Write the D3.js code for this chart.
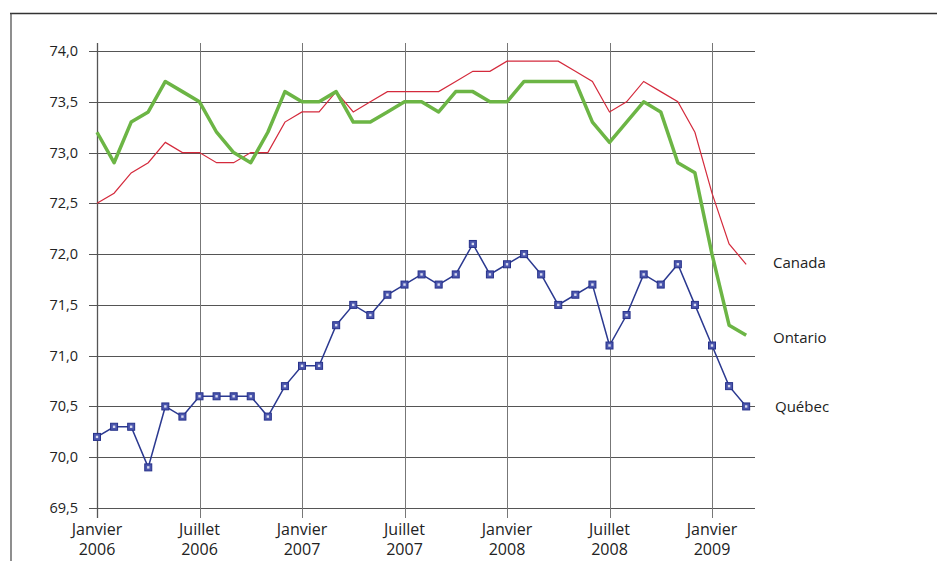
<!DOCTYPE html>
<html>
<head>
<meta charset="utf-8">
<script src="https://cdn.jsdelivr.net/npm/d3@7"></script>
<style>
  body { margin: 0; background: #fff; }
  text { font-family: "Open Sans", "Noto Sans", sans-serif; fill: #222; }
</style>
</head>
<body>
<svg id="chart"></svg>
<script>
// months from Jan 2006 (index 0) to Mar 2009 (index 38)
const tickMonths = [0, 6, 12, 18, 24, 30, 36];
const tickLabels = [
  ["Janvier", "2006"], ["Juillet", "2006"], ["Janvier", "2007"], ["Juillet", "2007"],
  ["Janvier", "2008"], ["Juillet", "2008"], ["Janvier", "2009"]
];
const yTicks = [69.5, 70.0, 70.5, 71.0, 71.5, 72.0, 72.5, 73.0, 73.5, 74.0];

const canada = [72.5, 72.6, 72.8, 72.9, 73.1, 73.0, 73.0, 72.9, 72.9, 73.0, 73.0, 73.3,
  73.4, 73.4, 73.6, 73.4, 73.5, 73.6, 73.6, 73.6, 73.6, 73.7, 73.8, 73.8,
  73.9, 73.9, 73.9, 73.9, 73.8, 73.7, 73.4, 73.5, 73.7, 73.6, 73.5, 73.2,
  72.6, 72.1, 71.9];
const ontario = [73.2, 72.9, 73.3, 73.4, 73.7, 73.6, 73.5, 73.2, 73.0, 72.9, 73.2, 73.6,
  73.5, 73.5, 73.6, 73.3, 73.3, 73.4, 73.5, 73.5, 73.4, 73.6, 73.6, 73.5,
  73.5, 73.7, 73.7, 73.7, 73.7, 73.3, 73.1, 73.3, 73.5, 73.4, 72.9, 72.8,
  72.0, 71.3, 71.2];
const quebec = [70.2, 70.3, 70.3, 69.9, 70.5, 70.4, 70.6, 70.6, 70.6, 70.6, 70.4, 70.7,
  70.9, 70.9, 71.3, 71.5, 71.4, 71.6, 71.7, 71.8, 71.7, 71.8, 72.1, 71.8,
  71.9, 72.0, 71.8, 71.5, 71.6, 71.7, 71.1, 71.4, 71.8, 71.7, 71.9, 71.5,
  71.1, 70.7, 70.5];
const seriesNames = ["Canada", "Ontario", "Québec"];

const W = 937, H = 561;
const svg = d3.select("#chart").attr("width", W).attr("height", H);

// frame
svg.append("line").attr("x1", 10).attr("x2", W).attr("y1", 13.5).attr("y2", 13.5)
  .attr("stroke", "#333").attr("stroke-width", 1.5);
svg.append("line").attr("x1", 11).attr("x2", 11).attr("y1", 13).attr("y2", H)
  .attr("stroke", "#444").attr("stroke-width", 1.2);

// scales
const x = d3.scaleLinear().domain([0, 36]).range([97, 712]);
const xEnd = 755;
const y = d3.scaleLinear().domain([69.5, 74.0]).range([508, 51]);

const g = svg.append("g");

// horizontal grid + y ticks
g.selectAll("line.hgrid").data(yTicks).join("line")
  .attr("class", "hgrid")
  .attr("x1", 89).attr("x2", xEnd)
  .attr("y1", d => Math.round(y(d)) + 0.5).attr("y2", d => Math.round(y(d)) + 0.5)
  .attr("stroke", "#555").attr("stroke-width", 1.2);

// vertical grid
g.selectAll("line.vgrid").data(tickMonths).join("line")
  .attr("class", "vgrid")
  .attr("x1", d => Math.round(x(d)) + 0.5).attr("x2", d => Math.round(x(d)) + 0.5)
  .attr("y1", 43).attr("y2", 518)
  .attr("stroke", d => d === 0 ? "#555" : "#777").attr("stroke-width", d => d === 0 ? 1.3 : 1);

// y labels
g.selectAll("text.ylab").data(yTicks).join("text")
  .attr("class", "ylab")
  .attr("x", 78).attr("y", d => y(d) + 5)
  .attr("text-anchor", "end").attr("font-size", 14.5)
  .text(d => d3.format(".1f")(d).replace(".", ","));

// x labels
const xl = g.selectAll("text.xlab").data(tickMonths).join("text")
  .attr("class", "xlab")
  .attr("text-anchor", "middle").attr("font-size", 16);
xl.append("tspan").attr("x", d => x(d)).attr("y", 535).text((d, i) => tickLabels[i][0]);
xl.append("tspan").attr("x", d => x(d)).attr("y", 555).text((d, i) => tickLabels[i][1]);

const line = d3.line().x((d, i) => x(i)).y(d => y(d));

g.append("path").datum(canada).attr("d", line)
  .attr("fill", "none").attr("stroke", "#d42a3c").attr("stroke-width", 1.2);
g.append("path").datum(ontario).attr("d", line)
  .attr("fill", "none").attr("stroke", "#6cb545").attr("stroke-width", 3.5)
  .attr("stroke-linejoin", "round");
g.append("path").datum(quebec).attr("d", line)
  .attr("fill", "none").attr("stroke", "#2b3990").attr("stroke-width", 1.5);

// quebec markers
const mk = g.selectAll("g.mk").data(quebec).join("g").attr("class", "mk")
  .attr("transform", (d, i) => `translate(${x(i)},${y(d)})`);
mk.append("rect").attr("x", -3.5).attr("y", -3.5).attr("width", 7).attr("height", 7)
  .attr("fill", "#4b56ad").attr("stroke", "#26318a").attr("stroke-width", 1);
mk.append("rect").attr("x", -1.2).attr("y", -1.2).attr("width", 2.4).attr("height", 2.4)
  .attr("fill", "#d8dbf0");

// series labels
const labelY = [263, 338, 407];
g.selectAll("text.slab").data(seriesNames).join("text")
  .attr("class", "slab")
  .attr("x", (d, i) => i === 2 ? 775 : 773)
  .attr("y", (d, i) => labelY[i] + 5)
  .attr("font-size", 15)
  .text(d => d);
</script>
</body>
</html>
